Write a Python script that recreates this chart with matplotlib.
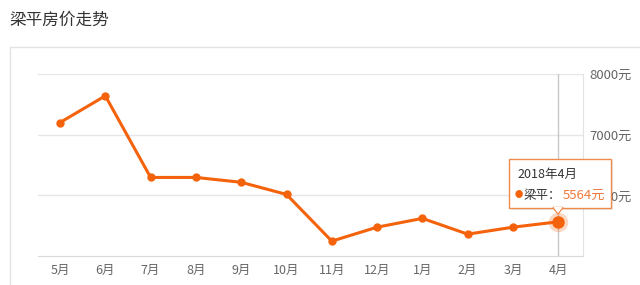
import matplotlib.pyplot as plt
from matplotlib.patches import Rectangle, FancyBboxPatch, Polygon

plt.rcParams['font.family'] = ['Noto Sans CJK SC', 'DejaVu Sans']

# data
months = ['5月', '6月', '7月', '8月', '9月', '10月', '11月', '12月', '1月', '2月', '3月', '4月']
prices = [7200, 7640, 6295, 6295, 6215, 6015, 5245, 5475, 5620, 5360, 5475, 5564]
y_ticks = [5000, 6000, 7000, 8000]
y_labels = ['', '6000元', '7000元', '8000元']

W, H = 640, 285
orange = '#f4630b'


def fx(px):
    return px / W


def fy(py):
    return 1 - py / H


def main():
    fig = plt.figure(figsize=(W / 100, H / 100), dpi=100)

    # title and panel frame
    fig.text(fx(9), fy(20), '梁平房价走势', fontsize=12, color='#333333', va='center', ha='left')
    fig.patches.append(Rectangle((fx(10), fy(300)), fx(660), fy(47) - fy(300), transform=fig.transFigure,
                                 fill=False, edgecolor='#e3e3e3', linewidth=1.0))

    ax = fig.add_axes([fx(38), fy(256), fx(583) - fx(38), fy(74) - fy(256)])
    x = list(range(len(months)))
    ax.set_xlim(-0.486, 11.545)
    ax.set_ylim(5000, 8000)

    for v in y_ticks[1:]:
        ax.axhline(v, color='#e6e6e6', linewidth=1, zorder=1)
    for s in ['top', 'left']:
        ax.spines[s].set_visible(False)
    ax.spines['bottom'].set_color('#d9d9d9')
    ax.spines['right'].set_color('#e3e3e3')

    ax.set_xticks(x)
    ax.set_xticklabels(months, fontsize=9, color='#666666')
    ax.tick_params(axis='x', length=0, pad=6)
    ax.yaxis.tick_right()
    ax.set_yticks(y_ticks)
    ax.set_yticklabels(y_labels, fontsize=9.5, color='#666666')
    ax.tick_params(axis='y', length=0, pad=4.5)

    # crosshair on last month
    ax.axvline(x[-1], color='#c8c8c8', linewidth=1, zorder=2)

    ax.plot(x, prices, '-o', color=orange, linewidth=2.2, markersize=5, zorder=4)
    ax.plot(x[-1], prices[-1], 'o', color=orange, markersize=14, alpha=0.25, markeredgewidth=0, zorder=3)
    ax.plot(x[-1], prices[-1], 'o', color=orange, markersize=8, zorder=5)

    # tooltip
    bx0, by0, bx1, by1 = 509, 159, 611, 208
    shadow = FancyBboxPatch((fx(bx0 + 2), fy(by1 + 2)), fx(bx1 - bx0), fy(by0) - fy(by1),
                            boxstyle='square,pad=0', transform=fig.transFigure,
                            facecolor='#000000', alpha=0.08, edgecolor='none', zorder=9)
    box = FancyBboxPatch((fx(bx0), fy(by1)), fx(bx1 - bx0), fy(by0) - fy(by1),
                         boxstyle='square,pad=0', transform=fig.transFigure,
                         facecolor='white', edgecolor='#f08a4b', linewidth=1, zorder=10)
    tri = Polygon([(fx(553), fy(by1 - 0.5)), (fx(563), fy(by1 - 0.5)), (fx(558), fy(by1 + 6))],
                  closed=True, transform=fig.transFigure, facecolor='white', edgecolor='#f08a4b',
                  linewidth=1, zorder=10)
    cover = Polygon([(fx(553.5), fy(by1 - 1)), (fx(562.5), fy(by1 - 1)), (fx(558), fy(by1 + 5))],
                    closed=True, transform=fig.transFigure, facecolor='white', edgecolor='none', zorder=11)
    for p in (shadow, box, tri, cover):
        fig.patches.append(p)
    fig.text(fx(517), fy(174), '2018年4月', fontsize=9, color='#333333', va='center', zorder=12)
    fig.text(fx(515), fy(195), '●', fontsize=6, color=orange, va='center', zorder=12)
    fig.text(fx(524), fy(195), '梁平：', fontsize=9, color='#333333', va='center', zorder=12)
    fig.text(fx(563), fy(195), '%d元' % prices[-1], fontsize=9.5, color='#f0783a', va='center', zorder=12)

    fig.savefig('out.png', dpi=100)


if __name__ == '__main__':
    main()
